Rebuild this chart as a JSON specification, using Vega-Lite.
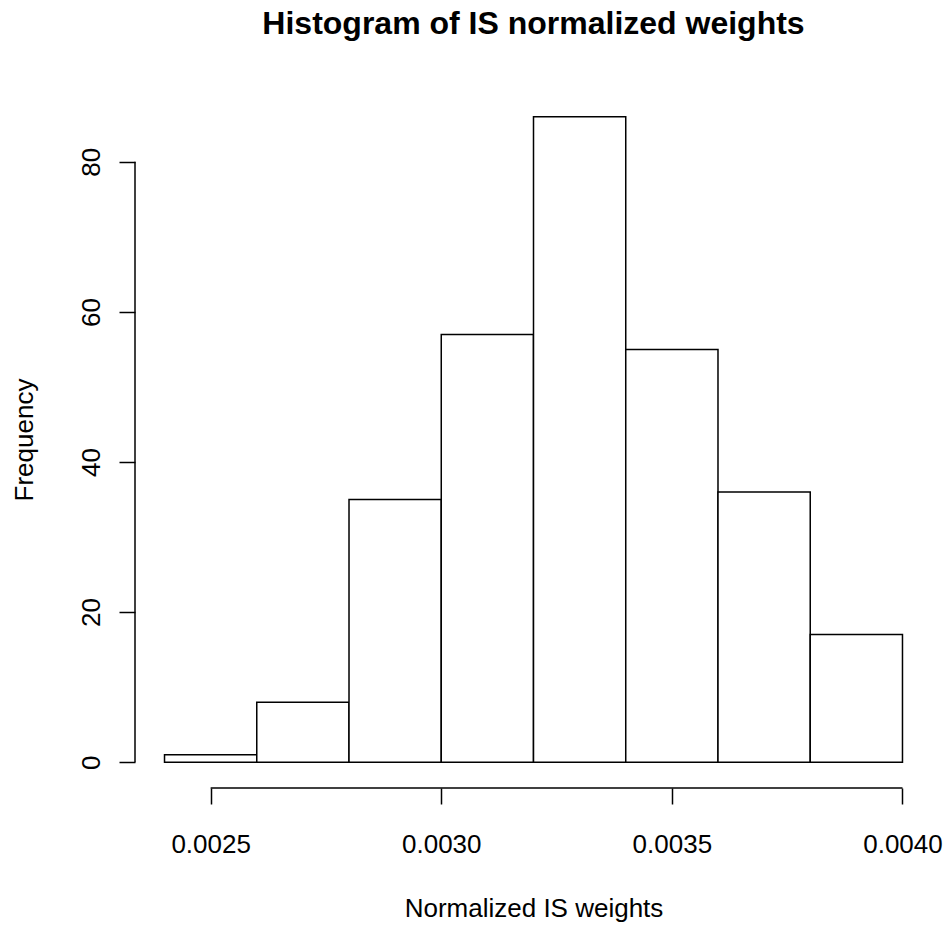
{
  "$schema": "https://vega.github.io/schema/vega-lite/v6.json",
  "autosize": "none",
  "width": 797,
  "height": 697,
  "padding": {"left": 135, "top": 91, "right": 16, "bottom": 137},
  "background": "white",
  "title": {
    "text": "Histogram of IS normalized weights",
    "font": "Liberation Sans",
    "fontSize": 32,
    "fontWeight": "bold",
    "color": "black",
    "anchor": "middle",
    "baseline": "alphabetic",
    "offset": 25
  },
  "config": {
    "view": {"stroke": null},
    "axis": {
      "labelFont": "Liberation Sans",
      "titleFont": "Liberation Sans",
      "labelFontSize": 26,
      "titleFontSize": 26,
      "titleFontWeight": "normal",
      "labelColor": "black",
      "titleColor": "black",
      "tickColor": "black",
      "tickWidth": 1.5,
      "domain": false,
      "grid": false
    }
  },
  "datasets": {
    "bins": [
      {"start": 0.0024, "end": 0.0026, "count": 1},
      {"start": 0.0026, "end": 0.0028, "count": 8},
      {"start": 0.0028, "end": 0.0030, "count": 35},
      {"start": 0.0030, "end": 0.0032, "count": 57},
      {"start": 0.0032, "end": 0.0034, "count": 86},
      {"start": 0.0034, "end": 0.0036, "count": 55},
      {"start": 0.0036, "end": 0.0038, "count": 36},
      {"start": 0.0038, "end": 0.0040, "count": 17}
    ],
    "xaxis": [{"from": 0.0025, "to": 0.0040}],
    "yaxis": [{"from": 0, "to": 80}]
  },
  "layer": [
    {
      "data": {"name": "bins"},
      "mark": {"type": "rect", "fill": "white", "stroke": "black", "strokeWidth": 1.5},
      "encoding": {
        "x": {
          "field": "start",
          "type": "quantitative",
          "scale": {"domain": [0.002336, 0.004064], "nice": false, "zero": false},
          "axis": {
            "orient": "bottom",
            "values": [0.0025, 0.003, 0.0035, 0.004],
            "format": ".4f",
            "tickSize": 16,
            "labelPadding": 27,
            "labelFlush": false,
            "labelOverlap": false,
            "title": "Normalized IS weights",
            "titlePadding": 38
          }
        },
        "x2": {"field": "end"},
        "y": {
          "field": "count",
          "type": "quantitative",
          "scale": {"domain": [-3.44, 89.44], "nice": false, "zero": false},
          "axis": {
            "orient": "left",
            "values": [0, 20, 40, 60, 80],
            "tickSize": 16,
            "labelAngle": -90,
            "labelAlign": "center",
            "labelBaseline": "bottom",
            "labelPadding": 15,
            "labelOverlap": false,
            "title": "Frequency",
            "titlePadding": 41
          }
        },
        "y2": {"datum": 0}
      }
    },
    {
      "data": {"name": "xaxis"},
      "mark": {"type": "rule", "color": "black", "strokeWidth": 1.5},
      "encoding": {
        "x": {"field": "from", "type": "quantitative"},
        "x2": {"field": "to"},
        "y": {"datum": -3.44}
      }
    },
    {
      "data": {"name": "yaxis"},
      "mark": {"type": "rule", "color": "black", "strokeWidth": 1.5},
      "encoding": {
        "y": {"field": "from", "type": "quantitative"},
        "y2": {"field": "to"},
        "x": {"datum": 0.002336}
      }
    }
  ]
}
